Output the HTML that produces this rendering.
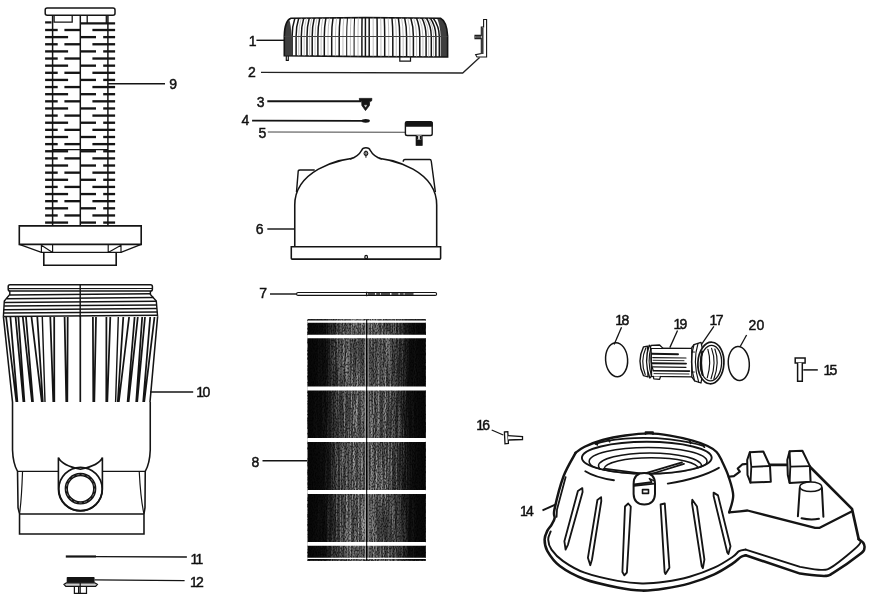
<!DOCTYPE html>
<html><head><meta charset="utf-8"><title>Filter parts diagram</title>
<style>
html,body{margin:0;padding:0;background:#fff;}
body{width:870px;height:599px;overflow:hidden;font-family:"Liberation Sans",sans-serif;}
svg{display:block;filter:blur(0.3px)}
svg text{font-family:"Liberation Sans",sans-serif;font-size:14px;fill:#111;stroke:#111;stroke-width:0.45px;}
</style></head><body>
<svg width="870" height="599" viewBox="0 0 870 599">
<rect width="870" height="599" fill="#fff"/>
<g id="p9">
<rect x="45.2" y="8" width="69.8" height="7.3" rx="2" fill="#fff" stroke="#141414" stroke-width="1.5"/>
<path d="M54.1 15.4 V22.2 H72.2 V15.4" fill="none" stroke="#141414" stroke-width="1.3" />
<path d="M87.2 15.4 V23.2 M106.3 15.4 V23.2" fill="none" stroke="#141414" stroke-width="1.3" />
<line x1="80.5" y1="23.3" x2="115.1" y2="23.3" stroke="#141414" stroke-width="2.21"/>
<line x1="45.1" y1="22.4" x2="51.5" y2="22.4" stroke="#141414" stroke-width="2.21"/>
<line x1="52.6" y1="15.4" x2="52.6" y2="226" stroke="#141414" stroke-width="1.49"/>
<line x1="80.3" y1="15.4" x2="80.3" y2="226" stroke="#141414" stroke-width="1.49"/>
<line x1="107.9" y1="15.4" x2="107.9" y2="226" stroke="#141414" stroke-width="1.49"/>
<line x1="45.1" y1="30.0" x2="57.7" y2="30.0" stroke="#141414" stroke-width="2.34"/>
<line x1="64.4" y1="30.0" x2="80.3" y2="30.0" stroke="#141414" stroke-width="2.34"/>
<line x1="92.4" y1="30.0" x2="115.1" y2="30.0" stroke="#141414" stroke-width="2.34"/>
<line x1="45.1" y1="37.13" x2="68.1" y2="37.13" stroke="#141414" stroke-width="2.34"/>
<line x1="80.3" y1="37.13" x2="96" y2="37.13" stroke="#141414" stroke-width="2.34"/>
<line x1="103.2" y1="37.13" x2="115.1" y2="37.13" stroke="#141414" stroke-width="2.34"/>
<line x1="45.1" y1="44.27" x2="57.7" y2="44.27" stroke="#141414" stroke-width="2.34"/>
<line x1="64.4" y1="44.27" x2="80.3" y2="44.27" stroke="#141414" stroke-width="2.34"/>
<line x1="92.4" y1="44.27" x2="115.1" y2="44.27" stroke="#141414" stroke-width="2.34"/>
<line x1="45.1" y1="51.4" x2="68.1" y2="51.4" stroke="#141414" stroke-width="2.34"/>
<line x1="80.3" y1="51.4" x2="96" y2="51.4" stroke="#141414" stroke-width="2.34"/>
<line x1="103.2" y1="51.4" x2="115.1" y2="51.4" stroke="#141414" stroke-width="2.34"/>
<line x1="45.1" y1="58.53" x2="57.7" y2="58.53" stroke="#141414" stroke-width="2.34"/>
<line x1="64.4" y1="58.53" x2="80.3" y2="58.53" stroke="#141414" stroke-width="2.34"/>
<line x1="92.4" y1="58.53" x2="115.1" y2="58.53" stroke="#141414" stroke-width="2.34"/>
<line x1="45.1" y1="65.66" x2="68.1" y2="65.66" stroke="#141414" stroke-width="2.34"/>
<line x1="80.3" y1="65.66" x2="96" y2="65.66" stroke="#141414" stroke-width="2.34"/>
<line x1="103.2" y1="65.66" x2="115.1" y2="65.66" stroke="#141414" stroke-width="2.34"/>
<line x1="45.1" y1="72.8" x2="57.7" y2="72.8" stroke="#141414" stroke-width="2.34"/>
<line x1="64.4" y1="72.8" x2="80.3" y2="72.8" stroke="#141414" stroke-width="2.34"/>
<line x1="92.4" y1="72.8" x2="115.1" y2="72.8" stroke="#141414" stroke-width="2.34"/>
<line x1="45.1" y1="79.93" x2="68.1" y2="79.93" stroke="#141414" stroke-width="2.34"/>
<line x1="80.3" y1="79.93" x2="96" y2="79.93" stroke="#141414" stroke-width="2.34"/>
<line x1="103.2" y1="79.93" x2="115.1" y2="79.93" stroke="#141414" stroke-width="2.34"/>
<line x1="45.1" y1="87.06" x2="57.7" y2="87.06" stroke="#141414" stroke-width="2.34"/>
<line x1="64.4" y1="87.06" x2="80.3" y2="87.06" stroke="#141414" stroke-width="2.34"/>
<line x1="92.4" y1="87.06" x2="115.1" y2="87.06" stroke="#141414" stroke-width="2.34"/>
<line x1="45.1" y1="94.2" x2="68.1" y2="94.2" stroke="#141414" stroke-width="2.34"/>
<line x1="80.3" y1="94.2" x2="96" y2="94.2" stroke="#141414" stroke-width="2.34"/>
<line x1="103.2" y1="94.2" x2="115.1" y2="94.2" stroke="#141414" stroke-width="2.34"/>
<line x1="45.1" y1="101.33" x2="57.7" y2="101.33" stroke="#141414" stroke-width="2.34"/>
<line x1="64.4" y1="101.33" x2="80.3" y2="101.33" stroke="#141414" stroke-width="2.34"/>
<line x1="92.4" y1="101.33" x2="115.1" y2="101.33" stroke="#141414" stroke-width="2.34"/>
<line x1="45.1" y1="108.46" x2="68.1" y2="108.46" stroke="#141414" stroke-width="2.34"/>
<line x1="80.3" y1="108.46" x2="96" y2="108.46" stroke="#141414" stroke-width="2.34"/>
<line x1="103.2" y1="108.46" x2="115.1" y2="108.46" stroke="#141414" stroke-width="2.34"/>
<line x1="45.1" y1="115.6" x2="57.7" y2="115.6" stroke="#141414" stroke-width="2.34"/>
<line x1="64.4" y1="115.6" x2="80.3" y2="115.6" stroke="#141414" stroke-width="2.34"/>
<line x1="92.4" y1="115.6" x2="115.1" y2="115.6" stroke="#141414" stroke-width="2.34"/>
<line x1="45.1" y1="122.73" x2="68.1" y2="122.73" stroke="#141414" stroke-width="2.34"/>
<line x1="80.3" y1="122.73" x2="96" y2="122.73" stroke="#141414" stroke-width="2.34"/>
<line x1="103.2" y1="122.73" x2="115.1" y2="122.73" stroke="#141414" stroke-width="2.34"/>
<line x1="45.1" y1="129.86" x2="57.7" y2="129.86" stroke="#141414" stroke-width="2.34"/>
<line x1="64.4" y1="129.86" x2="80.3" y2="129.86" stroke="#141414" stroke-width="2.34"/>
<line x1="92.4" y1="129.86" x2="115.1" y2="129.86" stroke="#141414" stroke-width="2.34"/>
<line x1="45.1" y1="137.0" x2="68.1" y2="137.0" stroke="#141414" stroke-width="2.34"/>
<line x1="80.3" y1="137.0" x2="96" y2="137.0" stroke="#141414" stroke-width="2.34"/>
<line x1="103.2" y1="137.0" x2="115.1" y2="137.0" stroke="#141414" stroke-width="2.34"/>
<line x1="45.1" y1="144.13" x2="57.7" y2="144.13" stroke="#141414" stroke-width="2.34"/>
<line x1="64.4" y1="144.13" x2="80.3" y2="144.13" stroke="#141414" stroke-width="2.34"/>
<line x1="92.4" y1="144.13" x2="115.1" y2="144.13" stroke="#141414" stroke-width="2.34"/>
<line x1="45.1" y1="151.26" x2="68.1" y2="151.26" stroke="#141414" stroke-width="2.34"/>
<line x1="80.3" y1="151.26" x2="96" y2="151.26" stroke="#141414" stroke-width="2.34"/>
<line x1="103.2" y1="151.26" x2="115.1" y2="151.26" stroke="#141414" stroke-width="2.34"/>
<line x1="45.1" y1="158.39" x2="57.7" y2="158.39" stroke="#141414" stroke-width="2.34"/>
<line x1="64.4" y1="158.39" x2="80.3" y2="158.39" stroke="#141414" stroke-width="2.34"/>
<line x1="92.4" y1="158.39" x2="115.1" y2="158.39" stroke="#141414" stroke-width="2.34"/>
<line x1="45.1" y1="165.53" x2="68.1" y2="165.53" stroke="#141414" stroke-width="2.34"/>
<line x1="80.3" y1="165.53" x2="96" y2="165.53" stroke="#141414" stroke-width="2.34"/>
<line x1="103.2" y1="165.53" x2="115.1" y2="165.53" stroke="#141414" stroke-width="2.34"/>
<line x1="45.1" y1="172.66" x2="57.7" y2="172.66" stroke="#141414" stroke-width="2.34"/>
<line x1="64.4" y1="172.66" x2="80.3" y2="172.66" stroke="#141414" stroke-width="2.34"/>
<line x1="92.4" y1="172.66" x2="115.1" y2="172.66" stroke="#141414" stroke-width="2.34"/>
<line x1="45.1" y1="179.79" x2="68.1" y2="179.79" stroke="#141414" stroke-width="2.34"/>
<line x1="80.3" y1="179.79" x2="96" y2="179.79" stroke="#141414" stroke-width="2.34"/>
<line x1="103.2" y1="179.79" x2="115.1" y2="179.79" stroke="#141414" stroke-width="2.34"/>
<line x1="45.1" y1="186.93" x2="57.7" y2="186.93" stroke="#141414" stroke-width="2.34"/>
<line x1="64.4" y1="186.93" x2="80.3" y2="186.93" stroke="#141414" stroke-width="2.34"/>
<line x1="92.4" y1="186.93" x2="115.1" y2="186.93" stroke="#141414" stroke-width="2.34"/>
<line x1="45.1" y1="194.06" x2="68.1" y2="194.06" stroke="#141414" stroke-width="2.34"/>
<line x1="80.3" y1="194.06" x2="96" y2="194.06" stroke="#141414" stroke-width="2.34"/>
<line x1="103.2" y1="194.06" x2="115.1" y2="194.06" stroke="#141414" stroke-width="2.34"/>
<line x1="45.1" y1="201.19" x2="57.7" y2="201.19" stroke="#141414" stroke-width="2.34"/>
<line x1="64.4" y1="201.19" x2="80.3" y2="201.19" stroke="#141414" stroke-width="2.34"/>
<line x1="92.4" y1="201.19" x2="115.1" y2="201.19" stroke="#141414" stroke-width="2.34"/>
<line x1="45.1" y1="208.32" x2="68.1" y2="208.32" stroke="#141414" stroke-width="2.34"/>
<line x1="80.3" y1="208.32" x2="96" y2="208.32" stroke="#141414" stroke-width="2.34"/>
<line x1="103.2" y1="208.32" x2="115.1" y2="208.32" stroke="#141414" stroke-width="2.34"/>
<line x1="45.1" y1="215.46" x2="57.7" y2="215.46" stroke="#141414" stroke-width="2.34"/>
<line x1="64.4" y1="215.46" x2="80.3" y2="215.46" stroke="#141414" stroke-width="2.34"/>
<line x1="92.4" y1="215.46" x2="115.1" y2="215.46" stroke="#141414" stroke-width="2.34"/>
<line x1="45.1" y1="222.59" x2="68.1" y2="222.59" stroke="#141414" stroke-width="2.34"/>
<line x1="80.3" y1="222.59" x2="96" y2="222.59" stroke="#141414" stroke-width="2.34"/>
<line x1="103.2" y1="222.59" x2="115.1" y2="222.59" stroke="#141414" stroke-width="2.34"/>
<line x1="52.6" y1="149.6" x2="108" y2="149.6" stroke="#141414" stroke-width="1.17"/>
<path d="M19.3 225.9 H141.2 V244.4 H19.3 Z" fill="#fff" stroke="#141414" stroke-width="1.62" />
<path d="M19.3 244.4 L41.4 252.4 H121 L141.2 244.4" fill="none" stroke="#141414" stroke-width="1.43" />
<path d="M41.4 244.4 V252.4 M121 244.4 V252.4 M41.4 245.2 L52.6 252.4 M121 245.2 L108.2 252.4 M52.6 244.4 V252.4 M108.2 244.4 V252.4" fill="none" stroke="#141414" stroke-width="1.17" />
<path d="M43.8 252.4 V265.3 H116.2 V252.4" fill="none" stroke="#141414" stroke-width="1.62" />
</g>
<g id="p10">
<rect x="8.2" y="284.8" width="144.2" height="6.2" rx="1.8" fill="#fff" stroke="#141414" stroke-width="1.5"/>
<line x1="8.6" y1="288.7" x2="152" y2="288.5" stroke="#141414" stroke-width="1.17"/>
<path d="M9.8 291 V294.5 L4.3 301 L3.4 316.5 M150.4 291 V294.5 L156.3 301 L157.6 316.5" fill="none" stroke="#141414" stroke-width="1.43" />
<line x1="9.8" y1="295.0" x2="150.4" y2="293.8" stroke="#141414" stroke-width="1.49"/>
<line x1="6.7" y1="298.7" x2="153.8" y2="297.5" stroke="#141414" stroke-width="1.49"/>
<line x1="4.3" y1="302.5" x2="156.3" y2="301.3" stroke="#141414" stroke-width="1.49"/>
<line x1="4.1" y1="306.1" x2="156.6" y2="304.9" stroke="#141414" stroke-width="1.49"/>
<line x1="3.9" y1="309.7" x2="156.9" y2="308.5" stroke="#141414" stroke-width="1.49"/>
<line x1="3.7" y1="313.1" x2="157.2" y2="311.9" stroke="#141414" stroke-width="1.49"/>
<line x1="3.4" y1="316.5" x2="157.6" y2="315.3" stroke="#141414" stroke-width="1.49"/>
<path d="M3.4 316.5 L12.5 402 M157.6 316.5 L150 402" fill="none" stroke="#141414" stroke-width="1.56" />
<path d="M6.1 317 L16.4 402 M10.4 317 L17.4 402" fill="none" stroke="#141414" stroke-width="1.76" />
<path d="M154.5 317 L144.2 402 M150.2 317 L143.2 402" fill="none" stroke="#141414" stroke-width="1.76" />
<path d="M15.6 317 L23.4 402 M18.4 317 L24.4 402" fill="none" stroke="#141414" stroke-width="1.76" />
<path d="M145.0 317 L137.2 402 M142.2 317 L136.2 402" fill="none" stroke="#141414" stroke-width="1.76" />
<path d="M22.8 317 L32.0 402 M26.0 317 L33.0 402" fill="none" stroke="#141414" stroke-width="1.76" />
<path d="M137.8 317 L128.6 402 M134.6 317 L127.6 402" fill="none" stroke="#141414" stroke-width="1.76" />
<path d="M31.5 317 L41.8 402 M37.3 317 L42.8 402" fill="none" stroke="#141414" stroke-width="1.76" />
<path d="M129.1 317 L118.8 402 M123.3 317 L117.8 402" fill="none" stroke="#141414" stroke-width="1.76" />
<path d="M50.3 317 L53.3 402 M54.2 317 L54.3 402" fill="none" stroke="#141414" stroke-width="1.76" />
<path d="M110.3 317 L107.3 402 M106.4 317 L106.3 402" fill="none" stroke="#141414" stroke-width="1.76" />
<path d="M64.6 317 L66.3 402 M67.7 317 L67.3 402" fill="none" stroke="#141414" stroke-width="1.76" />
<path d="M96.0 317 L94.3 402 M92.9 317 L93.3 402" fill="none" stroke="#141414" stroke-width="1.76" />
<path d="M42.3 317 L45 402 M118.3 317 L115.6 402" fill="none" stroke="#141414" stroke-width="1.43" />
<line x1="80.3" y1="316" x2="80.3" y2="402" stroke="#141414" stroke-width="1.69"/>
<line x1="80.2" y1="285" x2="80.2" y2="317" stroke="#141414" stroke-width="1.43"/>
<path d="M 12.52 402.0 V 450.08 Q 13.02 463.86 17.53 471.37 L 18.03 507.68 L 19.53 513.94 V 533.97 H 143.99 V 513.94 L 144.99 507.68 L 145.24 471.37 Q 149.75 463.86 150.25 450.08 V 402.0" fill="none" stroke="#141414" stroke-width="1.56" />
<path d="M 17.53 471.37 H 58.1 M 102.67 471.37 H 145.24 M 19.53 513.94 H 143.99" fill="none" stroke="#141414" stroke-width="1.43" />
<path d="M 22.54 471.37 Q 21.54 500.17 19.53 513.94 M 139.23 471.37 Q 140.73 500.17 143.99 513.94" fill="none" stroke="#141414" stroke-width="1.17" />
<path d="M58.4 457.6 V489 A22 22 0 0 0 102.4 489 V457.6 Q99 465.5 80.4 469.2 Q62 465.5 58.4 457.6 Z" fill="#fff" stroke="#141414" stroke-width="1.62" />
<circle cx="80.5" cy="489" r="21.7" fill="none" stroke="#141414" stroke-width="1.7"/>
<circle cx="80.5" cy="488.7" r="14.2" fill="#fff" stroke="#141414" stroke-width="3.3"/>
<circle cx="80.5" cy="488.7" r="14.2" fill="none" stroke="#999" stroke-width="0.7" stroke-dasharray="3 2.2"/>
</g>
<line x1="108" y1="83.8" x2="165" y2="83.8" stroke="#141414" stroke-width="1.56"/>
<line x1="150" y1="392" x2="193.2" y2="392" stroke="#141414" stroke-width="1.56"/>
<line x1="65.8" y1="556.5" x2="96" y2="556.5" stroke="#141414" stroke-width="2.21"/>
<line x1="96" y1="556.7" x2="186.9" y2="557" stroke="#141414" stroke-width="1.3"/>
<rect x="66.7" y="577" width="27.9" height="6" rx="0.8" fill="#141414"/>
<path d="M66.5 582.8 L64 584.4 L65.8 586.4 H95.6 L97.4 584.4 L94.8 582.8 Z" fill="#ccc" stroke="#141414" stroke-width="1.23" />
<path d="M74.4 586.4 V593.4 H86.5 V586.4 M80.2 583 V593.4 M78.6 586.4 V593.4" fill="none" stroke="#141414" stroke-width="1.23" />
<line x1="94.6" y1="579.8" x2="184.6" y2="580.7" stroke="#141414" stroke-width="1.3"/>
<g id="p1">
<clipPath id="lidc"><path d="M284.3 55.8 V36 Q284.6 20.5 291 18.2 L366 17.6 L440.5 18.3 Q446.8 21.5 447.6 36 L447.6 57 L366 56.6 Z"/></clipPath>
<path d="M284.3 55.8 V36 Q284.6 20.5 291 18.2 L366 17.6 L440.5 18.3 Q446.8 21.5 447.6 36 L447.6 57 L366 56.6 Z" fill="#fff" stroke="#141414" stroke-width="1.62" />
<g clip-path="url(#lidc)">
<path d="M292.1 58 V36.5 Q292.1 26 295.34 16.5" fill="none" stroke="#141414" stroke-width="1.49" />
<path d="M296.1 58 V36.5 Q296.1 26 299.17 16.5" fill="none" stroke="#141414" stroke-width="1.49" />
<path d="M298.7 58 V36.5 Q298.7 26 301.65 16.5" fill="none" stroke="#9a9a9a" stroke-width="0.65" />
<path d="M301.3 58 V36.5 Q301.3 26 304.14 16.5" fill="none" stroke="#141414" stroke-width="1.49" />
<path d="M304.15 58 V36.5 Q304.15 26 306.87 16.5" fill="none" stroke="#9a9a9a" stroke-width="0.65" />
<path d="M307 58 V36.5 Q307 26 309.59 16.5" fill="none" stroke="#141414" stroke-width="1.49" />
<path d="M309.6 58 V36.5 Q309.6 26 312.08 16.5" fill="none" stroke="#9a9a9a" stroke-width="0.65" />
<path d="M312.2 58 V36.5 Q312.2 26 314.56 16.5" fill="none" stroke="#141414" stroke-width="1.49" />
<path d="M315.05 58 V36.5 Q315.05 26 317.29 16.5" fill="none" stroke="#9a9a9a" stroke-width="0.65" />
<path d="M317.9 58 V36.5 Q317.9 26 320.01 16.5" fill="none" stroke="#141414" stroke-width="1.49" />
<path d="M321.1 58 V36.5 Q321.1 26 323.07 16.5" fill="none" stroke="#9a9a9a" stroke-width="0.65" />
<path d="M324.3 58 V36.5 Q324.3 26 326.13 16.5" fill="none" stroke="#141414" stroke-width="1.49" />
<path d="M328.0 58 V36.5 Q328.0 26 329.67 16.5" fill="none" stroke="#9a9a9a" stroke-width="0.65" />
<path d="M331.7 58 V36.5 Q331.7 26 333.21 16.5" fill="none" stroke="#141414" stroke-width="1.49" />
<path d="M335.45 58 V36.5 Q335.45 26 336.79 16.5" fill="none" stroke="#9a9a9a" stroke-width="0.65" />
<path d="M339.2 58 V36.5 Q339.2 26 340.38 16.5" fill="none" stroke="#141414" stroke-width="1.49" />
<path d="M342.95 58 V36.5 Q342.95 26 343.96 16.5" fill="none" stroke="#9a9a9a" stroke-width="0.65" />
<path d="M346.7 58 V36.5 Q346.7 26 347.55 16.5" fill="none" stroke="#141414" stroke-width="1.04" />
<path d="M350.4 58 V36.5 Q350.4 26 351.08 16.5" fill="none" stroke="#9a9a9a" stroke-width="0.65" />
<path d="M354.1 58 V36.5 Q354.1 26 354.62 16.5" fill="none" stroke="#141414" stroke-width="1.04" />
<path d="M358.0 58 V36.5 Q358.0 26 358.35 16.5" fill="none" stroke="#9a9a9a" stroke-width="0.65" />
<path d="M361.9 58 V36.5 Q361.9 26 362.08 16.5" fill="none" stroke="#141414" stroke-width="1.49" />
<path d="M365.4 58 V36.5 Q365.4 26 365.43 16.5" fill="none" stroke="#141414" stroke-width="1.49" />
<path d="M369.2 58 V36.5 Q369.2 26 369.19 16.5" fill="none" stroke="#141414" stroke-width="1.49" />
<path d="M373.2 58 V36.5 Q373.2 26 373.13 16.5" fill="none" stroke="#9a9a9a" stroke-width="0.65" />
<path d="M377.2 58 V36.5 Q377.2 26 377.03 16.5" fill="none" stroke="#141414" stroke-width="1.49" />
<path d="M380.95 58 V36.5 Q380.95 26 380.65 16.5" fill="none" stroke="#9a9a9a" stroke-width="0.65" />
<path d="M384.7 58 V36.5 Q384.7 26 384.23 16.5" fill="none" stroke="#141414" stroke-width="1.49" />
<path d="M388.75 58 V36.5 Q388.75 26 388.06 16.5" fill="none" stroke="#9a9a9a" stroke-width="0.65" />
<path d="M392.8 58 V36.5 Q392.8 26 391.84 16.5" fill="none" stroke="#141414" stroke-width="1.49" />
<path d="M396.25 58 V36.5 Q396.25 26 395.03 16.5" fill="none" stroke="#9a9a9a" stroke-width="0.65" />
<path d="M399.7 58 V36.5 Q399.7 26 398.18 16.5" fill="none" stroke="#141414" stroke-width="1.49" />
<path d="M403.15 58 V36.5 Q403.15 26 401.3 16.5" fill="none" stroke="#9a9a9a" stroke-width="0.65" />
<path d="M406.6 58 V36.5 Q406.6 26 404.39 16.5" fill="none" stroke="#141414" stroke-width="1.49" />
<path d="M410.0 58 V36.5 Q410.0 26 407.41 16.5" fill="none" stroke="#9a9a9a" stroke-width="0.65" />
<path d="M413.4 58 V36.5 Q413.4 26 410.39 16.5" fill="none" stroke="#141414" stroke-width="1.49" />
<path d="M416.6 58 V36.5 Q416.6 26 413.17 16.5" fill="none" stroke="#9a9a9a" stroke-width="0.65" />
<path d="M419.8 58 V36.5 Q419.8 26 415.93 16.5" fill="none" stroke="#141414" stroke-width="1.49" />
<path d="M422.95 58 V36.5 Q422.95 26 418.61 16.5" fill="none" stroke="#9a9a9a" stroke-width="0.65" />
<path d="M426.1 58 V36.5 Q426.1 26 421.27 16.5" fill="none" stroke="#141414" stroke-width="1.49" />
<path d="M428.7 58 V36.5 Q428.7 26 423.44 16.5" fill="none" stroke="#9a9a9a" stroke-width="0.65" />
<path d="M431.3 58 V36.5 Q431.3 26 425.59 16.5" fill="none" stroke="#141414" stroke-width="1.49" />
<path d="M433.6 58 V36.5 Q433.6 26 427.48 16.5" fill="none" stroke="#9a9a9a" stroke-width="0.65" />
<path d="M435.9 58 V36.5 Q435.9 26 429.36 16.5" fill="none" stroke="#141414" stroke-width="1.49" />
<path d="M439.3 58 V36.5 Q439.3 26 432.11 16.5" fill="none" stroke="#141414" stroke-width="1.49" />
<path d="M284 58 V30 Q285 22 289 19 Q291 24 291.6 36.5 V58 Z" fill="#141414" opacity="0.82"/>
<path d="M440.6 58 V36.5 Q440.4 26 436.6 17 L441 17 Q447 21 448 36 V58 Z" fill="#141414" opacity="0.82"/>
<line x1="284" y1="36.6" x2="448" y2="36.6" stroke="#444" stroke-width="1.04"/>
</g>
<path d="M286.3 56 V60.4 H288.3 V56" fill="none" stroke="#141414" stroke-width="1.17" />
<path d="M399.8 56.6 V61.2 H410.5 V56.8" fill="none" stroke="#141414" stroke-width="1.23" />
</g>
<path d="M483.6 19.5 H486.6 V57 H477 L475.6 54.6 L481.3 53.6 V38.6 H475 V35.4 H481.3 V27 H483.6 Z" fill="#fff" stroke="#141414" stroke-width="1.1" />
<rect x="475.4" y="35.8" width="6" height="2.4" fill="#555"/>
<line x1="482.7" y1="27.5" x2="482.7" y2="54" stroke="#3a3a3a" stroke-width="1.69"/>
<path d="M261 72.4 L462.7 73 L479.6 57.6" fill="none" stroke="#222" stroke-width="1.3" />
<line x1="256.4" y1="40.3" x2="284.2" y2="40.3" stroke="#141414" stroke-width="1.43"/>
<line x1="267.3" y1="101.3" x2="361" y2="101.3" stroke="#141414" stroke-width="2.02"/>
<path d="M359.3 98.4 H371.9 L371.6 100.9 L369.7 101.6 L369.4 105.5 L365.5 110.6 L361.9 105.5 L361.7 101.6 L359.6 100.9 Z" fill="#141414" stroke="#141414" stroke-width="0.78" />
<path d="M364.4 105.2 H366.8 L365.6 107.2 Z" fill="#ddd" stroke="#ddd" stroke-width="0.39" />
<line x1="252.1" y1="120.6" x2="362.6" y2="120.9" stroke="#141414" stroke-width="1.69"/>
<ellipse cx="365.7" cy="120.8" rx="4.2" ry="1.9" fill="#141414"/>
<line x1="267.8" y1="132" x2="405.6" y2="132.3" stroke="#444" stroke-width="1.1"/>
<rect x="405.4" y="121.8" width="26.8" height="13.7" rx="1.8" fill="#fff" stroke="#141414" stroke-width="1.4"/>
<rect x="405" y="121.4" width="27.6" height="5.4" rx="1.2" fill="#141414"/>
<path d="M416.4 135.5 V145 H421.9 V135.5" fill="#fff" stroke="#141414" stroke-width="1.43" />
<rect x="416" y="139.6" width="6.2" height="5.8" fill="#141414"/>
<path d="M417.6 136 V139.6 M420.4 136 V139.6" fill="none" stroke="#141414" stroke-width="1.3" />
<g id="p6">
<path d="M 296.49 192.09 L 298.23 170.82 Q 298.66 169.95 299.97 169.95 H 314.72 M 403.27 161.7 Q 403.27 159.53 405.01 159.53 H 429.75 Q 431.05 159.53 431.27 161.27 L 435.39 192.09" fill="none" stroke="#141414" stroke-width="1.43" />
<path d="M 294.76 246.78 V 205.11 C 294.76 172.55 334.26 157.8 365.73 157.36 C 397.2 157.8 436.69 172.55 436.69 205.11 V 246.78" fill="#fff" stroke="#141414" stroke-width="1.56" />
<path d="M 349.88 159.1 Q 358.13 156.93 361.6 150.42 Q 362.47 147.81 365.94 147.81 Q 369.42 147.81 370.28 150.42 Q 373.76 156.93 382.0 159.1" fill="#fff" stroke="#141414" stroke-width="1.43" />
<circle cx="365.94" cy="153.46" r="1.9" fill="none" stroke="#141414" stroke-width="1.1"/>
<line x1="365.94" y1="150.42" x2="365.94" y2="157.8" stroke="#141414" stroke-width="1.04"/>
<path d="M 291.29 246.78 H 440.6 V 258.28 Q 440.6 259.15 439.73 259.15 H 292.15 Q 291.29 259.15 291.29 258.28 Z" fill="#fff" stroke="#141414" stroke-width="1.56" />
<ellipse cx="366.16" cy="257.2" rx="1.3" ry="1.8" fill="none" stroke="#141414" stroke-width="1.3"/>
</g>
<line x1="267.3" y1="229" x2="294" y2="229" stroke="#141414" stroke-width="1.43"/>
<line x1="270" y1="294" x2="297" y2="294" stroke="#141414" stroke-width="1.43"/>
<rect x="296.6" y="292.5" width="140" height="2.9" rx="1.45" fill="#fff" stroke="#141414" stroke-width="1.15"/>
<line x1="366.6" y1="291.8" x2="366.6" y2="296.2" stroke="#141414" stroke-width="1.3"/>
<line x1="368" y1="294" x2="414" y2="294" stroke="#141414" stroke-width="1.5" stroke-dasharray="7 1.2 4 0.8 9 1.5"/>
<g id="p8">
<defs>
<filter id="tx" x="0" y="0" width="100%" height="100%">
<feTurbulence type="fractalNoise" baseFrequency="0.6 0.018" numOctaves="2" seed="4" result="n"/>
<feColorMatrix in="n" type="matrix" values="0 0 0 0 0.8  0 0 0 0 0.8  0 0 0 0 0.8  3.0 0 0 0 -1.2"/>
</filter>
<filter id="sp" x="0" y="0" width="100%" height="100%">
<feTurbulence type="fractalNoise" baseFrequency="0.9 0.5" numOctaves="1" seed="9" result="n"/>
<feColorMatrix in="n" type="matrix" values="0 0 0 0 0  0 0 0 0 0  0 0 0 0 0  4 0 0 0 -1.7"/>
</filter>
<linearGradient id="env" x1="0" x2="1" y1="0" y2="0">
<stop offset="0" stop-color="#000"/><stop offset="0.15" stop-color="#111"/><stop offset="0.3" stop-color="#999"/><stop offset="0.47" stop-color="#bbb"/><stop offset="0.5" stop-color="#333"/><stop offset="0.53" stop-color="#bbb"/><stop offset="0.72" stop-color="#888"/><stop offset="0.86" stop-color="#111"/><stop offset="1" stop-color="#000"/>
</linearGradient>
<mask id="envm"><rect x="307" y="319" width="120" height="243" fill="url(#env)"/></mask>
</defs>
<rect x="307.6" y="319.2" width="118.2" height="241.6" fill="#0c0c0c"/>
<rect x="307.6" y="319.2" width="118.2" height="241.6" fill="url(#env)" opacity="0.38"/>
<g mask="url(#envm)"><rect x="307.6" y="319.2" width="118.2" height="241.6" fill="#d8d8d8" filter="url(#tx)" opacity="0.8"/></g>
<rect x="307.6" y="319.2" width="118.2" height="241.6" fill="#0c0c0c" filter="url(#sp)" opacity="0.6"/>
<line x1="365.3" y1="320" x2="365.3" y2="560" stroke="#bbb" stroke-width="0.91"/>
<line x1="366.7" y1="320" x2="366.7" y2="560" stroke="#000" stroke-width="1.3"/>
<line x1="368.1" y1="320" x2="368.1" y2="560" stroke="#bbb" stroke-width="0.91"/>
<rect x="307.2" y="320.4" width="119" height="2.4" rx="1" fill="#fff"/>
<rect x="307.2" y="334.8" width="119" height="3.4" rx="1" fill="#fff"/>
<rect x="307.2" y="386.6" width="119" height="3.8" rx="1" fill="#fff"/>
<rect x="307.2" y="438" width="119" height="4" rx="1" fill="#fff"/>
<rect x="307.2" y="490" width="119" height="4" rx="1" fill="#fff"/>
<rect x="307.2" y="541.9" width="119" height="3.8" rx="1" fill="#fff"/>
<rect x="307.2" y="557.8" width="119" height="1.2" rx="1" fill="#fff"/>
<line x1="366.7" y1="320" x2="366.7" y2="560" stroke="#000" stroke-width="1.04"/>
</g>
<line x1="262.5" y1="460.8" x2="307.5" y2="460.8" stroke="#141414" stroke-width="1.56"/>
<ellipse cx="616.6" cy="359.7" rx="11" ry="17" fill="none" stroke="#141414" stroke-width="1.5" transform="rotate(-4 616.6 359.7)"/>
<ellipse cx="738.8" cy="363.5" rx="10.5" ry="17" fill="none" stroke="#141414" stroke-width="1.5" transform="rotate(-4 738.7 363.6)"/>
<path d="M 621.54 327.36 L 614.14 344.41" fill="none" stroke="#141414" stroke-width="1.3" />
<path d="M 677.54 330.57 L 669.82 347.63" fill="none" stroke="#141414" stroke-width="1.3" />
<path d="M 713.91 326.39 L 701.03 345.06" fill="none" stroke="#141414" stroke-width="1.3" />
<path d="M746.6 335 L740.2 346.5" fill="none" stroke="#141414" stroke-width="1.3" />
<path d="M795.2 358 H805.1 V362.9 H795.2 Z" fill="#fff" stroke="#141414" stroke-width="1.49" />
<path d="M797.6 362.9 V381.3 H802.3 V362.9" fill="#fff" stroke="#141414" stroke-width="1.49" />
<line x1="803.3" y1="369.9" x2="817.8" y2="369.9" stroke="#141414" stroke-width="1.49"/>
<g id="p17" stroke-linecap="round" stroke-linejoin="round">
<path d="M649.5 348.1 L692.5 348.4 L692.5 376.9 L650 376.4 Z" fill="#fff" stroke="#141414" stroke-width="1.37" />
<line x1="651.5" y1="353.8" x2="678" y2="354.2" stroke="#141414" stroke-width="1.95"/>
<line x1="652.7" y1="357.6" x2="686" y2="358.0" stroke="#141414" stroke-width="1.17"/>
<line x1="653" y1="360.3" x2="684" y2="360.7" stroke="#141414" stroke-width="0.91"/>
<line x1="652" y1="363.2" x2="686" y2="363.59999999999997" stroke="#141414" stroke-width="1.95"/>
<line x1="652.7" y1="366.9" x2="686" y2="367.29999999999995" stroke="#141414" stroke-width="1.17"/>
<line x1="653.3" y1="370.7" x2="689.5" y2="371.09999999999997" stroke="#141414" stroke-width="1.56"/>
<line x1="654" y1="373.6" x2="689" y2="374.0" stroke="#141414" stroke-width="0.91"/>
<path d="M647.5 346.3 L643.5 346.9 Q636.4 361.3 643.5 375.7 L648 376.8 Z" fill="#fff" stroke="#141414" stroke-width="1.37" />
<path d="M645.8 348.1 Q640 361.3 645.2 374.5" fill="none" stroke="#141414" stroke-width="1.17" />
<path d="M649.2 345.2 Q643.6 361.3 649.8 378 L651.5 376.2 L651 347.5 Z" fill="#fff" stroke="#141414" stroke-width="1.37" />
<path d="M651 347.5 Q647 361.3 651.5 376.2" fill="none" stroke="#141414" stroke-width="1.17" />
<path d="M650.4 348.1 L651 345.4 L659.6 345 L662.8 348.1" fill="#fff" stroke="#141414" stroke-width="1.3" />
<path d="M653.3 376.5 L653.8 378.8 L659.6 379.4 L660.5 376.5" fill="#fff" stroke="#141414" stroke-width="1.3" />
<path d="M651.6 353 Q650 361.9 653.3 370.7" fill="none" stroke="#141414" stroke-width="1.17" />
<path d="M691.8 347.5 L694 344.6 L701 342.3 L705 360 L701 383 L694.6 380.8 L691.8 376.8 Z" fill="#fff" stroke="#141414" stroke-width="1.3" />
<path d="M694 344.6 Q688.6 361.3 694.6 380.8 M698 343.5 Q692.4 361.3 698.7 382.2" fill="none" stroke="#141414" stroke-width="1.17" />
<path d="M691.8 352 L694.5 352 M691.6 372 L694.4 372" fill="none" stroke="#141414" stroke-width="1.04" />
<ellipse cx="710.9" cy="363" rx="13" ry="20.8" fill="#fff" stroke="#141414" stroke-width="1.7" transform="rotate(3 710.9 363)"/>
<ellipse cx="711" cy="363.1" rx="10.6" ry="17.8" fill="#fff" stroke="#141414" stroke-width="1.3" transform="rotate(3 711 363.1)"/>
<path d="M707.9 349.4 Q711.8 362.6 707.3 377.6 M711.6 348.4 Q716.8 362.6 711 378.8 M714.9 349 Q720 362.6 713.8 379.2" fill="none" stroke="#141414" stroke-width="1.17" />
<path d="M702.2 351.5 Q699.8 363 702.6 375" fill="none" stroke="#141414" stroke-width="2.08" />
</g>
<path d="M504.4 432 L507.8 431.7 L508.4 443.4 L505 443.7 Z" fill="#fff" stroke="#141414" stroke-width="1.3" />
<path d="M508 435.6 L522.5 436.5 V439.5 L508.2 440" fill="#fff" stroke="#141414" stroke-width="1.3" />
<path d="M491.7 430 L503.3 435" fill="none" stroke="#141414" stroke-width="1.3" />
<g id="p14" stroke-linejoin="round" stroke-linecap="round">
<path d="M575.6 452.8 C577.1 451.8 580.1 448.93 584.6 446.8 C589.1 444.67 595.83 441.88 602.6 440 C609.37 438.12 617.43 436.6 625.2 435.5 C632.97 434.4 641.73 433.38 649.2 433.4 C656.67 433.42 662.77 434.4 670 435.6 C677.23 436.8 686.33 438.87 692.6 440.6 C698.87 442.33 703.6 444.1 707.6 446 C711.6 447.9 714.22 449.5 716.6 452 C718.98 454.5 719.88 456.87 721.9 461 C723.92 465.13 726.82 471.03 728.7 476.8 C730.58 482.57 733.12 489.67 733.2 495.6 C733.28 501.53 729.87 509.6 729.2 512.4" fill="none" stroke="#141414" stroke-width="2.36" />
<path d="M575.6 452.8 C573.6 456.68 567.12 466.7 563.6 476.1 C560.08 485.5 556.0 502.18 554.5 509.2 C553.0 516.22 555.1 515.6 554.6 518.2 C554.1 520.8 552.7 522.73 551.5 524.8 C550.3 526.87 548.55 528.13 547.4 530.6 C546.25 533.07 544.6 536.17 544.6 539.6 C544.6 543.03 544.87 546.78 547.4 551.2 C549.93 555.62 553.6 561.42 559.8 566.1 C566.0 570.78 574.97 575.73 584.6 579.3 C594.23 582.87 608.03 585.62 617.6 587.5 C627.17 589.38 634.13 590.42 642 590.6 C649.87 590.78 656.87 589.8 664.8 588.6 C672.73 587.4 681.35 585.78 689.6 583.4 C697.85 581.02 707.15 577.6 714.3 574.3 C721.45 571.0 728.08 566.48 732.5 563.6 C736.92 560.72 738.6 558.38 740.8 557 C743.0 555.62 744.88 555.58 745.7 555.3" fill="none" stroke="#141414" stroke-width="2.54" />
<path d="M745.7 555.3 L800.1 573.6  C804.12 573.98 818.68 576.02 824.2 575.9 C829.72 575.78 827.2 576.53 833.2 572.9 C839.2 569.27 855.0 558.23 860.2 554.1 C865.4 549.97 863.9 549.98 864.4 548.1 C864.9 546.22 864.15 544.3 863.2 542.8 C862.25 541.3 859.45 539.72 858.7 539.1" fill="none" stroke="#141414" stroke-width="2.54" />
<path d="M550.7 531.4 C550.28 532.77 548.07 536.57 548.2 539.6 C548.33 542.63 549.02 546.02 551.5 549.6 C553.98 553.18 557.58 557.25 563.1 561.1 C568.62 564.95 575.52 569.4 584.6 572.7 C593.68 576.0 608.03 579.1 617.6 580.9 C627.17 582.7 634.13 583.35 642 583.5 C649.87 583.65 656.87 582.92 664.8 581.8 C672.73 580.68 681.35 579.15 689.6 576.8 C697.85 574.45 707.15 571.0 714.3 567.7 C721.45 564.4 728.37 559.75 732.5 557 C736.63 554.25 736.9 552.43 739.1 551.2 C741.3 549.97 744.6 549.87 745.7 549.6" fill="none" stroke="#141414" stroke-width="1.93" />
<path d="M745.7 549.6 L800.1 566.9  C803.62 567.4 815.68 570.03 821.2 569.9 C826.72 569.77 826.95 570.23 833.2 566.1 C839.45 561.97 854.45 549.6 858.7 545.1 C862.95 540.6 858.7 540.1 858.7 539.1" fill="none" stroke="#141414" stroke-width="1.93" />
<path d="M565.6 477.2 L557 509.5 L556.6 517" fill="none" stroke="#141414" stroke-width="1.75" />
<path d="M645.5 434 V432.2 H653 V434" fill="none" stroke="#141414" stroke-width="1.75" />
<clipPath id="e1c"><ellipse cx="646.8" cy="457.8" rx="65.6" ry="16.8"/></clipPath>
<ellipse cx="646.8" cy="457.8" rx="64.9" ry="16" fill="#fff" stroke="#141414" stroke-width="1.9"/>
<g clip-path="url(#e1c)">
<ellipse cx="648.1" cy="461.4" rx="58.9" ry="14" fill="none" stroke="#141414" stroke-width="1.55"/>
<ellipse cx="650" cy="466" rx="51.5" ry="13" fill="none" stroke="#141414" stroke-width="1.55"/>
<ellipse cx="651.3" cy="469" rx="47.3" ry="11.3" fill="none" stroke="#141414" stroke-width="1.55"/>
</g>
<path d="M595.4 444 Q604 440.6 625.2 438.6 Q648 436.9 670 439.4 Q692 442.4 702.6 445.6" fill="none" stroke="#141414" stroke-width="1.75" />
<path d="M595.4 442.6 L597.4 444.8 M608.6 439.4 L609.6 441.6 M689.6 440.4 L690.6 443.4 M702.4 444.4 L704.4 447.2" fill="none" stroke="#141414" stroke-width="1.75" />
<path d="M604.1 468.6 L640.2 473.3" fill="none" stroke="#141414" stroke-width="1.75" />
<path d="M646 473.1 L682 462.3 M648 475 L684 463.8" fill="none" stroke="#141414" stroke-width="1.75" />
<path d="M585.3 471.3 Q595 477.5 613.9 480.3" fill="none" stroke="#141414" stroke-width="1.93" />
<path d="M667.8 483.6 Q700 478.5 718.9 467.8" fill="none" stroke="#141414" stroke-width="1.93" />
<path d="M582.3 488.1 L582.6 492 L568 544.6 L565.6 549.6 L564.4 541.3 L577.9 491 Z" fill="#fff" stroke="#141414" stroke-width="1.84" />
<path d="M601.1 497.1 L601.3 501 L592 559.5 L590.3 565.2 L587.9 557.8 L597.4 500 Z" fill="#fff" stroke="#141414" stroke-width="1.84" />
<path d="M628.2 503.5 L630.8 506.5 L626.9 572.5 L624.3 575.3 L622.4 572 L625 506.5 Z" fill="#fff" stroke="#141414" stroke-width="1.84" />
<path d="M660.6 504.5 L664.8 503.5 L669.4 567.7 L665.5 574 L664.6 572 Z" fill="#fff" stroke="#141414" stroke-width="1.84" />
<path d="M692.3 499.7 L697 506.6 L704.4 559.5 L702.9 568.2 L701.7 566 L692 503.3 Z" fill="#fff" stroke="#141414" stroke-width="1.84" />
<path d="M713.6 492.6 L718 495.4 L730.5 546.2 L728.4 554 L727.3 552.5 L713.6 496 Z" fill="#fff" stroke="#141414" stroke-width="1.84" />
<path d="M633.6 484 Q633.6 473 644.3 473 Q655 473 655 484 V494 Q654.5 504.4 644.3 504.6 Q634 504.4 633.6 494 Z" fill="#fff" stroke="#141414" stroke-width="2.01" />
<path d="M634 484.4 L649.5 482.4 L651.8 482.1 L649.4 478.6 L653.8 480.6 M634 486 L654.6 483.6" fill="none" stroke="#141414" stroke-width="1.57" />
<path d="M642.5 489.6 H648.5 V493.4 H642.5 Z" fill="none" stroke="#141414" stroke-width="1.57" />
<path d="M728.7 476.8 L733.9 476.1 L739.9 471.6 L737.7 468.6 L742.2 464.4 L748.2 463.8" fill="none" stroke="#141414" stroke-width="2.1" />
<path d="M770 464.9 H787.3" fill="none" stroke="#141414" stroke-width="2.62" />
<path d="M809.9 466.8 L852 508.9 L858.7 539.1" fill="none" stroke="#141414" stroke-width="2.62" />
<path d="M729.2 512.4 L740 511.3 L747.5 510.5 L815.1 527.8 L819.7 527.8 L851.6 511.6" fill="none" stroke="#141414" stroke-width="2.27" />
<path d="M749.8 452.2 L763.3 451.5 L770 466 L770.8 481.8 L750.5 482.6 L747.5 475 L747.2 460 Z" fill="#fff" stroke="#141414" stroke-width="2.01" />
<path d="M749.8 452.2 L751.3 466.8 L770 466 M751.3 466.8 L750.5 482.6" fill="none" stroke="#141414" stroke-width="1.84" />
<path d="M789.6 451.3 L802.4 450.7 L809.9 466.1 L810.6 481.8 L789.6 482.9 L787.8 475 L787.3 460 Z" fill="#fff" stroke="#141414" stroke-width="2.01" />
<path d="M789.6 451.3 L790.3 466.6 L809.9 466.1 M790.3 466.6 L789.6 482.9" fill="none" stroke="#141414" stroke-width="1.84" />
<path d="M799.8 487.9 L797.9 516 Q810 522 823.4 516.6 L821.9 487.9 Z" fill="#fff"/>
<path d="M799.8 487.9 L797.9 516.2 M821.9 487.9 L823.4 516.8 M801.6 518.3 Q810.6 520.4 818.9 518.8" fill="none" stroke="#141414" stroke-width="2.01" />
<ellipse cx="810.8" cy="486.8" rx="11" ry="4.8" fill="#fff" stroke="#141414" stroke-width="1.5"/>
</g>
<path d="M542.5 510.4 L555.3 504.6" fill="none" stroke="#141414" stroke-width="1.93" />
<text x="169.2" y="88.7">9</text>
<text x="196.3" y="396.9">1<tspan dx="-1.7">0</tspan></text>
<text x="190.4" y="563.5">1<tspan dx="-1.7">1</tspan></text>
<text x="189.9" y="587.4">1<tspan dx="-1.7">2</tspan></text>
<text x="248.8" y="46">1</text>
<text x="248" y="77">2</text>
<text x="256.8" y="107.2">3</text>
<text x="241.6" y="124.5">4</text>
<text x="258.5" y="138.4">5</text>
<text x="255.7" y="233.5">6</text>
<text x="259.3" y="298">7</text>
<text x="251.5" y="466.5">8</text>
<text x="615.3" y="325.3">1<tspan dx="-1.7">8</tspan></text>
<text x="673.5" y="328.8">1<tspan dx="-1.7">9</tspan></text>
<text x="709.6" y="324.6">1<tspan dx="-1.7">7</tspan></text>
<text x="748.6" y="329.8">20</text>
<text x="823.4" y="375.2">1<tspan dx="-1.7">5</tspan></text>
<text x="476.2" y="429.6">1<tspan dx="-1.7">6</tspan></text>
<text x="520" y="516">1<tspan dx="-1.7">4</tspan></text>
</svg>
</body></html>
